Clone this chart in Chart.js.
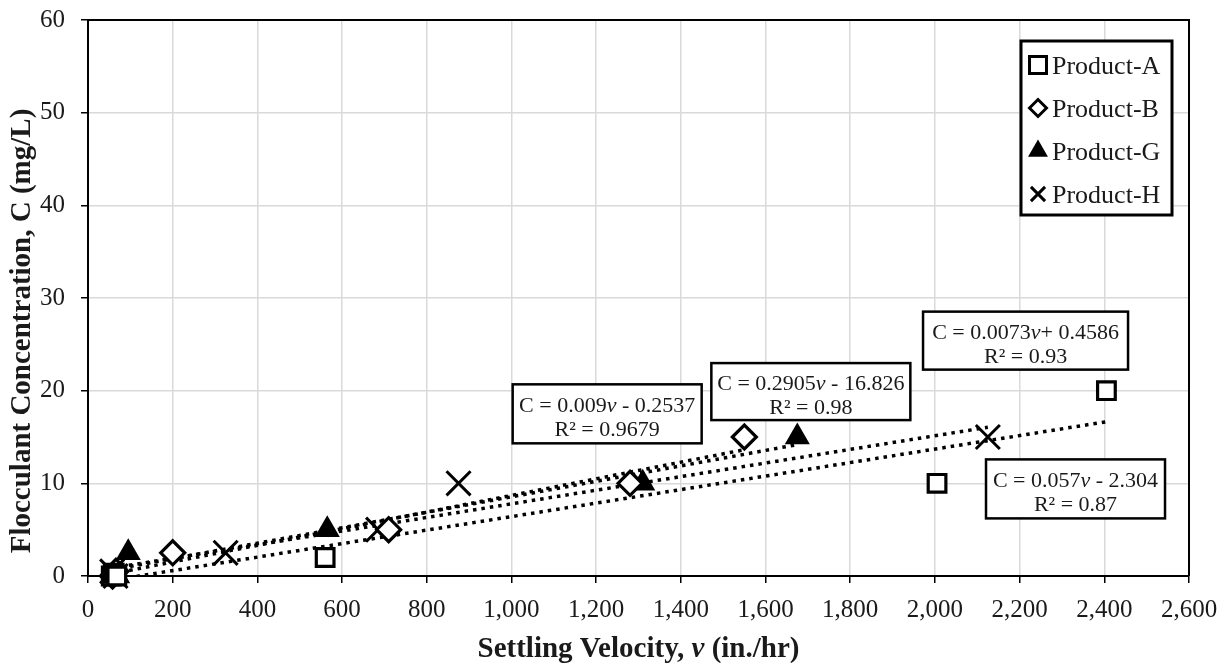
<!DOCTYPE html>
<html>
<head>
<meta charset="utf-8">
<script src="https://cdn.jsdelivr.net/npm/chart.js@4.4.0/dist/chart.umd.min.js"></script>
<style>
  html, body { margin: 0; padding: 0; background: #fff; }
</style>
</head>
<body>
<canvas id="chart" width="1231" height="663"></canvas>
<script>
// data
const products = ["Product-A", "Product-B", "Product-G", "Product-H"];
const velA = [55, 62, 68, 560, 2005, 2405];
const concA = [0, 0.3, 0, 2, 10, 20];
const velB = [58, 66, 200, 710, 1280, 1550];
const concB = [0, 0.5, 2.5, 5, 10, 15];
const velG = [60, 70, 95, 565, 1310, 1675];
const concG = [0.2, 0, 2.5, 5, 10, 15];
const velH = [57, 65, 325, 685, 875, 2125];
const concH = [0.5, 0, 2.5, 5, 10, 15];

// equation labels as printed on the figure (B, G, A, H)
const fitEquations = [
  ["C = 0.009", "v", " - 0.2537"],
  ["C = 0.2905", "v", " - 16.826"],
  ["C = 0.0073", "v", "+ 0.4586"],
  ["C = 0.057", "v", " - 2.304"]
];
const fitR2 = ["R\u00b2 = 0.9679", "R\u00b2 = 0.98", "R\u00b2 = 0.93", "R\u00b2 = 0.87"];

const SERIF = '"Liberation Serif", "Times New Roman", serif';
const INK = '#1a1a1a';

function linreg(xs, ys) {
  let n = xs.length, mx = 0, my = 0;
  for (let i = 0; i < n; i++) { mx += xs[i]; my += ys[i]; }
  mx /= n; my /= n;
  let sxy = 0, sxx = 0;
  for (let i = 0; i < n; i++) {
    sxy += (xs[i] - mx) * (ys[i] - my);
    sxx += (xs[i] - mx) * (xs[i] - mx);
  }
  const m = sxy / sxx;
  return { m: m, b: my - m * mx };
}

function pts(xs, ys) {
  return xs.map((x, i) => ({ x: x, y: ys[i] }));
}

function trend(xs, ys) {
  const f = linreg(xs, ys);
  const lo = Math.min(...xs), hi = Math.max(...xs);
  return [{ x: lo, y: f.m * lo + f.b }, { x: hi, y: f.m * hi + f.b }];
}

const styles = [
  { pointStyle: 'rect', radius: 12.5, bg: '#fff', lw: 3.2 },
  { pointStyle: 'rectRot', radius: 12, bg: '#fff', lw: 3.2 },
  { pointStyle: 'triangle', radius: 14.5, bg: '#000', lw: 0 },
  { pointStyle: 'crossRot', radius: 17, bg: '#000', lw: 3 }
];
const allVel = [velA, velB, velG, velH];
const allConc = [concA, concB, concG, concH];

const datasets = [];
products.forEach((p, i) => {
  datasets.push({
    type: 'scatter',
    label: p,
    data: pts(allVel[i], allConc[i]),
    pointStyle: styles[i].pointStyle,
    pointRadius: styles[i].radius,
    pointBackgroundColor: styles[i].bg,
    pointBorderColor: '#000',
    pointBorderWidth: styles[i].lw,
    showLine: false,
    clip: false,
    order: 0
  });
});
products.forEach((p, i) => {
  datasets.push({
    type: 'line',
    label: p + ' trend',
    data: trend(allVel[i], allConc[i]),
    borderColor: '#000',
    borderWidth: 3.5,
    borderDash: [3.5, 5],
    pointRadius: 0,
    fill: false,
    order: 1
  });
});

// rich text helper: parts = [[text, italic]]
function drawRich(ctx, parts, cx, cy, size, bold, baseline) {
  const fonts = parts.map(p => (p[1] ? 'italic ' : '') + (bold ? 'bold ' : '') + size + 'px ' + SERIF);
  const widths = parts.map((p, i) => { ctx.font = fonts[i]; return ctx.measureText(p[0]).width; });
  const total = widths.reduce((a, b) => a + b, 0);
  let x = cx - total / 2;
  ctx.textAlign = 'left';
  ctx.textBaseline = baseline || 'middle';
  parts.forEach((p, i) => { ctx.font = fonts[i]; ctx.fillText(p[0], x, cy); x += widths[i]; });
  return total;
}

const extras = {
  id: 'extras',
  afterDraw(chart) {
    const ctx = chart.ctx;
    const a = chart.chartArea;
    const xs = chart.scales.x, ys = chart.scales.y;
    ctx.save();

    // frame top and right
    ctx.strokeStyle = '#000';
    ctx.lineWidth = 2;
    ctx.beginPath();
    ctx.moveTo(a.left, a.top);
    ctx.lineTo(a.right, a.top);
    ctx.lineTo(a.right, a.bottom);
    ctx.stroke();

    // axis titles
    ctx.fillStyle = INK;
    drawRich(ctx, [["Settling Velocity, ", false], ["v", true], [" (in./hr)", false]],
      (a.left + a.right) / 2, 657, 29, true, 'alphabetic');
    ctx.save();
    ctx.translate(30, 331);
    ctx.rotate(-Math.PI / 2);
    drawRich(ctx, [["Flocculant Concentration, C (mg/L)", false]], 0, 0, 29, true, 'alphabetic');
    ctx.restore();

    // equation boxes
    const anchors = [
      { x: 1226, y: 17.5, w: 189, h: 59 },
      { x: 1707, y: 19.9, w: 199, h: 57 },
      { x: 2214, y: 25.4, w: 205, h: 58 },
      { x: 2332, y: 9.4, w: 179, h: 59 }
    ];
    anchors.forEach((b, i) => {
      const cx = xs.getPixelForValue(b.x), cy = ys.getPixelForValue(b.y);
      ctx.fillStyle = '#fff';
      ctx.fillRect(cx - b.w / 2, cy - b.h / 2, b.w, b.h);
      ctx.strokeStyle = '#000';
      ctx.lineWidth = 2.5;
      ctx.strokeRect(cx - b.w / 2, cy - b.h / 2, b.w, b.h);
      ctx.fillStyle = INK;
      const e = fitEquations[i];
      drawRich(ctx, [[e[0], false], [e[1], true], [e[2], false]], cx, cy - 2, 22, false, 'alphabetic');
      drawRich(ctx, [[fitR2[i], false]], cx, cy + 22, 22, false, 'alphabetic');
    });

    // legend box
    const lx = a.right - 168, ly = a.top + 21, lw = 151, lh = 174;
    ctx.fillStyle = '#fff';
    ctx.fillRect(lx, ly, lw, lh);
    ctx.strokeStyle = '#000';
    ctx.lineWidth = 3;
    ctx.strokeRect(lx, ly, lw, lh);
    const legendMarks = [
      { pointStyle: 'rect', radius: 12, borderWidth: 3, fill: '#fff' },
      { pointStyle: 'rectRot', radius: 8.5, borderWidth: 3, fill: '#fff' },
      { pointStyle: 'triangle', radius: 11.5, borderWidth: 0, fill: '#000' },
      { pointStyle: 'crossRot', radius: 10, borderWidth: 3, fill: '#000' }
    ];
    products.forEach((p, i) => {
      const ry = ly + 24 + i * 43;
      const m = legendMarks[i];
      ctx.fillStyle = m.fill;
      ctx.strokeStyle = '#000';
      ctx.lineWidth = m.borderWidth;
      Chart.helpers.drawPoint(ctx, { pointStyle: m.pointStyle, radius: m.radius, borderWidth: m.borderWidth, rotation: 0 }, lx + 17, ry);
      ctx.fillStyle = INK;
      ctx.font = '26px ' + SERIF;
      ctx.textAlign = 'left';
      ctx.textBaseline = 'alphabetic';
      ctx.fillText(p, lx + 31, ry + 9);
    });
    ctx.restore();
  }
};

new Chart(document.getElementById('chart'), {
  data: { datasets: datasets },
  options: {
    responsive: false,
    animation: false,
    layout: { padding: { top: 17, right: 42, bottom: 0, left: 0 } },
    plugins: { legend: { display: false }, tooltip: { enabled: false } },
    scales: {
      x: {
        type: 'linear', min: 0, max: 2600,
        ticks: {
          stepSize: 200, color: INK, padding: 12, maxRotation: 0, autoSkip: false,
          font: { family: SERIF, size: 25 },
          callback: v => v.toLocaleString('en-US')
        },
        grid: { color: '#d9d9d9', lineWidth: 1.5, tickColor: '#000', tickLength: 7, tickWidth: 1.5 },
        border: { color: '#000', width: 2 },
        afterFit: s => { s.height = 87; s.paddingLeft = 0; s.paddingRight = 0; }
      },
      y: {
        type: 'linear', min: 0, max: 60,
        ticks: { stepSize: 10, color: INK, padding: 16, font: { family: SERIF, size: 25 } },
        grid: { color: '#d9d9d9', lineWidth: 1.5, tickColor: '#000', tickLength: 7, tickWidth: 1.5 },
        border: { color: '#000', width: 2 },
        afterFit: s => { s.width = 88; s.paddingTop = 0; s.paddingBottom = 0; }
      }
    }
  },
  plugins: [extras]
});
</script>
</body>
</html>
